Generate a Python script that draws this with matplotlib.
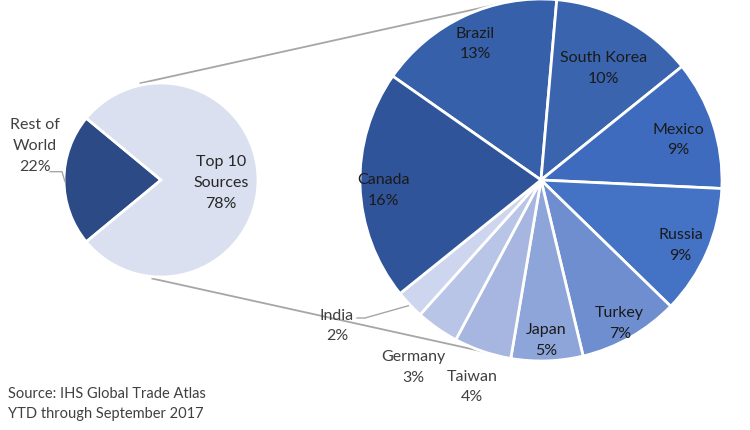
import numpy as np
import matplotlib.pyplot as plt

plt.rcParams['font.family'] = ['Lato', 'DejaVu Sans']

# left pie: share of imports
outer_labels = ["Rest of\nWorld", "Top 10\nSources"]
outer_values = [22, 78]

# right pie: top 10 sources (percent of total)
countries = ["Brazil", "South Korea", "Mexico", "Russia", "Turkey",
             "Japan", "Taiwan", "Germany", "India", "Canada"]
shares = [13, 10, 9, 9, 7, 5, 4, 3, 2, 16]

source_note = "Source: IHS Global Trade Atlas\nYTD through September 2017"

outer_colors = ["#2c4a86", "#dae0ef"]
inner_colors = ["#3660a9", "#3a64ae", "#3e6bbd", "#4472c4", "#6e8ed0",
                "#8ea5da", "#a6b6e0", "#b9c5e7", "#cdd6ee", "#30549a"]
# radial position of each label, as fraction of radius
inner_dist = [0.86, 0.73, 0.80, 0.84, 0.88, 0.86, 1.18, 1.23, 1.0, 0.87]

fig = plt.figure(figsize=(7.5, 4.3), dpi=100)
ax = fig.add_axes([0, 0, 1, 1])

lc, lr = (161, 250), 97
rc, rr = (541, 250), 181

def pt(c, r, ang):
    a = np.radians(ang)
    return c[0] + r * np.cos(a), c[1] + r * np.sin(a)

# connector lines between the two pies
for a1, a2 in [(102, 102.3), (-95, -108.5)]:
    x1, y1 = pt(lc, lr * 1.02, a1)
    x2, y2 = pt(rc, rr, a2)
    ax.plot([x1, x2], [y1, y2], color="#a6a6a6", lw=1.3, zorder=1)

wl, _ = ax.pie(outer_values, colors=outer_colors, center=lc, radius=lr,
               startangle=140.4, counterclock=True,
               wedgeprops=dict(edgecolor="white", linewidth=2))
for w in wl:
    w.set_zorder(2)

wr, _ = ax.pie(shares, colors=inner_colors, center=rc, radius=rr,
               startangle=145, counterclock=False,
               wedgeprops=dict(edgecolor="white", linewidth=2))
for w in wr:
    w.set_zorder(2)

ax.set_xlim(0, 750)
ax.set_ylim(0, 430)
ax.set_aspect('equal')
ax.axis('off')

fs = 11.5
ls = 1.6
dy = -5  # small downward nudge so text sits where the reference has it
# left pie labels
w = wl[1]
mid = (w.theta1 + w.theta2) / 2
x, y = pt(lc, lr * 0.62, mid)
ax.text(x, y - 3, f"{outer_labels[1]}\n{outer_values[1]}%", ha='center', va='center',
        fontsize=fs, color="#262626", linespacing=ls, zorder=3)
w = wl[0]
mid = (w.theta1 + w.theta2) / 2
x, y = pt(lc, lr * 1.35, mid - 16)
ax.text(x, y - 2, f"{outer_labels[0]}\n{outer_values[0]}%", ha='center', va='center',
        fontsize=fs, color="#404040", linespacing=ls, zorder=3)
ex, ey = pt(lc, lr * 0.99, mid + 1)
ax.plot([x + 15, ex - 3, ex], [ey + 10, ey + 10, ey], color="#a6a6a6", lw=1.0, zorder=3)

# right pie labels
for w, name, val, d in zip(wr, countries, shares, inner_dist):
    mid = (w.theta1 + w.theta2) / 2
    if name == "India":
        x, y = 337, 104
        ex, ey = pt(rc, rr * 1.01, mid)
        ax.plot([x + 20, x + 28, ex], [y + 8, y + 8, ey], color="#a6a6a6",
                lw=1.0, zorder=3)
        y += -dy
    else:
        x, y = pt(rc, rr * d, mid)
    col = "#1a1a1a" if d < 1 else "#404040"
    ax.text(x, y + dy, f"{name}\n{val}%", ha='center', va='center', fontsize=fs,
            color=col, linespacing=ls, zorder=3)

ax.text(8, 26, source_note, ha='left', va='center', fontsize=10.5,
        color="#404040", linespacing=1.5)

fig.savefig("out.png", dpi=100)
